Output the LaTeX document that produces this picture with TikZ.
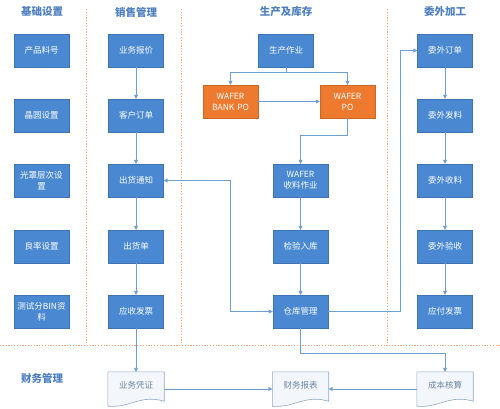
\documentclass[tikz,border=0pt]{standalone}
\usepackage{fontspec}
\setmainfont{Noto Sans CJK SC}
\usetikzlibrary{arrows.meta,positioning,calc}
\definecolor{boxblue}{HTML}{4A89D2}
\definecolor{boxorange}{HTML}{EE7A2F}
\definecolor{headblue}{HTML}{4E80C1}
\definecolor{lineblue}{HTML}{6E9DD2}
\definecolor{sepor}{HTML}{F2A97A}
\definecolor{docline}{HTML}{8FA8C6}
\definecolor{doctext}{HTML}{6C84A8}
\definecolor{docfill}{HTML}{F3F7FB}
\tikzset{
  bx/.style={rectangle, fill=boxblue, draw=boxblue!85!black, line width=0.4pt, minimum width=55pt, minimum height=33pt, inner sep=1pt, align=center, text=white, font=\fontsize{8.5}{11}\selectfont, text width=53pt},
  ob/.style={bx, fill=boxorange, draw=boxorange!85!black},
  hd/.style={text=headblue, font=\fontsize{10.5}{12}\selectfont\bfseries},
  doc/.style={rectangle, draw=none, minimum width=56pt, minimum height=31pt, inner sep=0pt},
  doctxt/.style={text=doctext, font=\fontsize{8.5}{10}\selectfont},
  arr/.style={draw=lineblue, line width=0.7pt, -{Triangle[length=4pt,width=4pt]}},
  arrb/.style={draw=lineblue, line width=0.7pt, {Triangle[length=4pt,width=4pt]}-{Triangle[length=4pt,width=4pt]}},
  sep/.style={draw=sepor, line width=0.8pt, dash pattern=on 1.2pt off 1.6pt},
}
\newcommand{\docshape}[1]{%
  \fill[docfill] ($(#1.north west)$) -- ($(#1.north east)$) -- ($(#1.south east)+(0,-2)$)
    .. controls ($(#1.south)+(4,-9)$) and ($(#1.south)+(-6,5)$) .. ($(#1.south west)+(0,3)$) -- cycle;
  \draw[docline, line width=0.6pt] ($(#1.north west)$) -- ($(#1.north east)$) -- ($(#1.south east)+(0,-2)$)
    .. controls ($(#1.south)+(4,-9)$) and ($(#1.south)+(-6,5)$) .. ($(#1.south west)+(0,3)$) -- cycle;
}
\begin{document}
\begin{tikzpicture}[x=1pt,y=-1pt]
\useasboundingbox (0,0) rectangle (500,409);
\fill[white] (0,0) rectangle (500,409);
% separators
\draw[sep] (86,9) -- (86,345);
\draw[sep] (181,9) -- (181,345);
\draw[sep] (387,9) -- (387,345);
\draw[sep] (0,345) -- (500,345);
% headers
\node[hd] (h1) at (42,12) {基础设置};
\node[hd] (h2) at (136,12) {销售管理};
\node[hd] (h3) at (286,12) {生产及库存};
\node[hd] (h4) at (445,12) {委外加工};
\node[hd] (h5) at (42,378) {财务管理};
% column 1
\node[bx] (a1) at (41.5,50.5) {产品料号};
\node[bx] (a2) at (41.5,115.5) {晶圆设置};
\node[bx] (a3) at (41.5,180.5) {光罩层次设\\置};
\node[bx] (a4) at (41.5,246.5) {良率设置};
\node[bx] (a5) at (41.5,311.5) {测试分BIN资\\料};
% column 2
\node[bx] (b1) at (136,50.5) {业务报价};
\node[bx] (b2) at (136,115.5) {客户订单};
\node[bx] (b3) at (136,180.5) {出货通知};
\node[bx] (b4) at (136,246.5) {出货单};
\node[bx] (b5) at (136,311.5) {应收发票};
% column 3
\node[bx] (c1) at (286,50.5) {生产作业};
\node[ob] (c2) at (230.5,101.5) {WAFER\\BANK PO};
\node[ob] (c3) at (347.5,101.5) {WAFER\\PO};
\node[bx] (c4) at (300.5,180.5) {WAFER\\收料作业};
\node[bx] (c5) at (300.5,246.5) {检验入库};
\node[bx] (c6) at (300.5,311.5) {仓库管理};
% column 4
\node[bx] (d1) at (445,50.5) {委外订单};
\node[bx] (d2) at (445,115.5) {委外发料};
\node[bx] (d3) at (445,180.5) {委外收料};
\node[bx] (d4) at (445,246.5) {委外验收};
\node[bx] (d5) at (445,311.5) {应付发票};
% documents
\node[doc] (e1) at (136,387.5) {};
\node[doc] (e2) at (300.5,387.5) {};
\node[doc] (e3) at (445,387.5) {};
\docshape{e1}\docshape{e2}\docshape{e3}
\node[doctxt] (t1) at (136,385) {业务凭证};
\node[doctxt] (t2) at (300.5,385) {财务报表};
\node[doctxt] (t3) at (445,385) {成本核算};
% connectors
\draw[arr] (b1) -- (b2);
\draw[arr] (b2) -- (b3);
\draw[arr] (b3) -- (b4);
\draw[arr] (b4) -- (b5);
\draw[arr] (b5) -- (e1);
\draw[arr] (c1.south) -- ++(0,5) -| (c2.north);
\draw[arr] (c1.south) -- ++(0,5) -| (c3.north);
\draw[arr] (c2) -- (c3);
\draw[arr] (c3.south) -- ++(0,17) -| (c4.north);
\draw[arr] (c4) -- (c5);
\draw[arr] (c5) -- (c6);
\coordinate (j1) at (230,180.5);
\draw[arrb] (b3.east) -- (j1) |- (c6.west);
\coordinate (j2) at (400,311.5);
\draw[arr] (c6.east) -- (j2) |- (d1.west);
\draw[arr] (d1) -- (d2);
\draw[arr] (d2) -- (d3);
\draw[arr] (d3) -- (d4);
\draw[arr] (d4) -- (d5);
\draw[arr] (c6.south) -- ++(0,25) -| (e3.north);
\draw[arr] ($(e1.east)+(0,1.5)$) -- ($(e2.west)+(0,1.5)$);
\draw[arr] ($(e3.west)+(0,1.5)$) -- ($(e2.east)+(0,1.5)$);
\end{tikzpicture}
\end{document}
